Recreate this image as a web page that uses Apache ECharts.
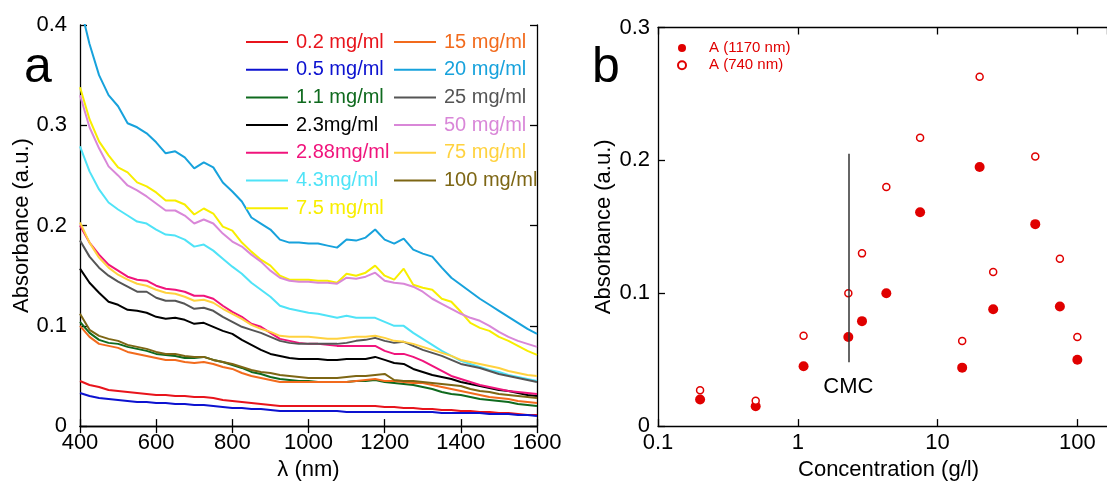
<!DOCTYPE html>
<html><head><meta charset="utf-8">
<script src="https://cdn.jsdelivr.net/npm/echarts@6/dist/echarts.min.js"></script>
<style>html,body{margin:0;padding:0;background:#fff}#c{width:1107px;height:486px}</style>
</head><body><div id="c"></div><script>
// ---------- Panel a: spectra ----------
const wavelengths = [400,425,450,475, 500,525,550,575, 600,625,650,675, 700,725,750,775,
  800,825,850,875, 900,925,950,975, 1000,1025,1050,1075, 1100,1125,1150,1175,
  1200,1225,1250,1275, 1300,1325,1350,1375, 1400,1425,1450,1475, 1500,1525,1550,1575, 1600];

const s0_2 = [0.045,0.041,0.039,0.036, 0.035,0.034,0.033,0.032, 0.031,0.031,0.030,0.030, 0.029,0.029,0.028,0.026,
  0.025,0.024,0.023,0.022, 0.021,0.020,0.020,0.020, 0.020,0.020,0.020,0.020, 0.020,0.020,0.020,0.020,
  0.019,0.019,0.018,0.018, 0.017,0.017,0.016,0.016, 0.015,0.015,0.014,0.014, 0.013,0.013,0.012,0.011, 0.011];
const s0_5 = [0.033,0.030,0.028,0.027, 0.026,0.025,0.024,0.024, 0.023,0.023,0.022,0.022, 0.021,0.021,0.020,0.019,
  0.018,0.018,0.017,0.017, 0.016,0.015,0.015,0.015, 0.015,0.015,0.015,0.015, 0.014,0.014,0.014,0.014,
  0.014,0.014,0.014,0.014, 0.014,0.014,0.013,0.013, 0.013,0.013,0.013,0.012, 0.012,0.012,0.011,0.011, 0.010];
const s1_1 = [0.104,0.093,0.086,0.083, 0.082,0.079,0.077,0.075, 0.072,0.071,0.070,0.068, 0.068,0.069,0.066,0.064,
  0.061,0.058,0.054,0.052, 0.049,0.047,0.046,0.045, 0.045,0.044,0.044,0.044, 0.044,0.045,0.045,0.046,
  0.044,0.043,0.042,0.041, 0.039,0.037,0.034,0.032, 0.031,0.029,0.027,0.026, 0.025,0.024,0.022,0.021, 0.020];
const s2_3 = [0.157,0.143,0.133,0.124, 0.121,0.116,0.115,0.113, 0.109,0.107,0.108,0.106, 0.102,0.103,0.099,0.095,
  0.092,0.086,0.081,0.076, 0.072,0.070,0.068,0.067, 0.067,0.067,0.066,0.066, 0.067,0.067,0.067,0.069,
  0.066,0.063,0.062,0.057, 0.054,0.051,0.049,0.047, 0.044,0.042,0.040,0.038, 0.036,0.035,0.033,0.031, 0.030];
const s2_88 = [0.200,0.183,0.171,0.161, 0.155,0.149,0.146,0.145, 0.140,0.137,0.136,0.134, 0.130,0.130,0.127,0.120,
  0.114,0.109,0.102,0.099, 0.093,0.087,0.085,0.083, 0.082,0.082,0.081,0.080, 0.080,0.080,0.080,0.080,
  0.075,0.072,0.072,0.069, 0.065,0.060,0.055,0.050, 0.047,0.044,0.041,0.039, 0.037,0.035,0.034,0.033, 0.032];
const s4_3 = [0.279,0.254,0.236,0.223, 0.216,0.210,0.204,0.202, 0.196,0.191,0.190,0.186, 0.179,0.181,0.175,0.167,
  0.159,0.152,0.143,0.136, 0.129,0.120,0.117,0.115, 0.113,0.112,0.110,0.108, 0.110,0.108,0.108,0.108,
  0.104,0.100,0.100,0.093, 0.087,0.081,0.075,0.070, 0.065,0.062,0.059,0.056, 0.054,0.051,0.049,0.047, 0.045];
const s7_5 = [0.338,0.306,0.284,0.270, 0.258,0.253,0.243,0.239, 0.233,0.225,0.225,0.221, 0.211,0.217,0.212,0.199,
  0.195,0.183,0.174,0.166, 0.160,0.150,0.146,0.146, 0.146,0.145,0.145,0.143, 0.152,0.150,0.153,0.160,
  0.150,0.146,0.157,0.141, 0.138,0.136,0.127,0.124, 0.114,0.103,0.098,0.095, 0.089,0.085,0.080,0.075, 0.071];
const s15 = [0.100,0.089,0.082,0.080, 0.078,0.074,0.072,0.070, 0.068,0.066,0.066,0.064, 0.063,0.064,0.062,0.059,
  0.057,0.053,0.050,0.048, 0.046,0.044,0.044,0.044, 0.044,0.044,0.044,0.044, 0.044,0.045,0.046,0.047,
  0.045,0.045,0.044,0.043, 0.043,0.041,0.039,0.037, 0.035,0.033,0.031,0.029, 0.028,0.027,0.025,0.024, 0.023];
const s20 = [0.420,0.381,0.350,0.330, 0.319,0.302,0.298,0.292, 0.283,0.272,0.274,0.268, 0.257,0.263,0.258,0.243,
  0.234,0.224,0.208,0.202, 0.196,0.186,0.183,0.183, 0.182,0.182,0.180,0.178, 0.186,0.185,0.188,0.196,
  0.186,0.182,0.187,0.176, 0.172,0.169,0.158,0.148, 0.141,0.134,0.127,0.121, 0.115,0.109,0.103,0.097, 0.092];
const s25 = [0.185,0.169,0.158,0.150, 0.144,0.139,0.134,0.134, 0.128,0.125,0.125,0.122, 0.117,0.118,0.115,0.109,
  0.104,0.099,0.096,0.093, 0.089,0.085,0.083,0.082, 0.082,0.082,0.082,0.082, 0.083,0.085,0.086,0.088,
  0.085,0.083,0.084,0.080, 0.076,0.073,0.070,0.066, 0.062,0.060,0.058,0.055, 0.052,0.050,0.048,0.046, 0.044];
const s50 = [0.330,0.298,0.277,0.259, 0.250,0.240,0.235,0.229, 0.222,0.215,0.215,0.210, 0.202,0.206,0.202,0.192,
  0.184,0.179,0.171,0.164, 0.155,0.148,0.145,0.144, 0.144,0.143,0.143,0.142, 0.148,0.147,0.149,0.153,
  0.145,0.143,0.142,0.139, 0.134,0.127,0.122,0.117, 0.112,0.108,0.105,0.100, 0.094,0.089,0.085,0.082, 0.079];
const s75 = [0.203,0.183,0.168,0.158, 0.151,0.146,0.142,0.140, 0.136,0.133,0.132,0.129, 0.125,0.126,0.123,0.117,
  0.112,0.107,0.101,0.097, 0.094,0.090,0.089,0.089, 0.089,0.088,0.087,0.087, 0.088,0.089,0.089,0.090,
  0.088,0.085,0.084,0.082, 0.079,0.076,0.073,0.070, 0.066,0.064,0.062,0.060, 0.058,0.055,0.053,0.051, 0.050];
const s100 = [0.112,0.096,0.090,0.087, 0.085,0.081,0.079,0.077, 0.074,0.072,0.072,0.070, 0.069,0.069,0.066,0.064,
  0.062,0.059,0.056,0.054, 0.053,0.051,0.050,0.049, 0.048,0.048,0.048,0.048, 0.049,0.050,0.050,0.051,
  0.052,0.046,0.045,0.045, 0.044,0.043,0.042,0.041, 0.040,0.037,0.035,0.034, 0.032,0.031,0.030,0.029, 0.028];

const spectraNames = ['0.2 mg/ml','0.5 mg/ml','1.1 mg/ml','2.3mg/ml','2.88mg/ml','4.3mg/ml','7.5 mg/ml',
  '15 mg/ml','20 mg/ml','25 mg/ml','50 mg/ml','75 mg/ml','100 mg/ml'];
const spectra = [s0_2, s0_5, s1_1, s2_3, s2_88, s4_3, s7_5, s15, s20, s25, s50, s75, s100];
const spectraColors = ['#e8141c','#0c12d0','#0f6a1e','#000000','#f0147c','#4fe3f7','#f8ee00',
  '#f26b1d','#17a2dc','#555555','#d987d8','#ffd23f','#7d6614'];

// ---------- Panel b: absorbance vs concentration ----------
const concentrations = [0.2, 0.5, 1.1, 2.3, 2.88, 4.3, 7.5, 15, 20, 25, 50, 75, 100];
const abs1170 = [0.020, 0.015, 0.045, 0.067, 0.079, 0.100, 0.161, 0.044, 0.195, 0.088, 0.152, 0.090, 0.050];
const abs740  = [0.027, 0.019, 0.068, 0.100, 0.130, 0.180, 0.217, 0.064, 0.263, 0.116, 0.203, 0.126, 0.067];
const cmcConc = 2.3;
const cmcRange = [0.048, 0.205];

const FONT = 'Liberation Sans';
const RED = '#e00000';

const axisLineStyle = {lineStyle: {color: '#000', width: 1.3}};
const tickStyle = {inside: true, length: 7, lineStyle: {color: '#000', width: 1.3}};
const labelStyle = {color: '#000', fontSize: 22, fontFamily: FONT};
const nameStyle = {color: '#000', fontSize: 22, fontFamily: FONT};
const yFmt = v => (v === 0 ? '0' : v.toFixed(1));
const xFmt = v => String(v);
const logFmt = v => {
  const l = Math.log10(v), r = Math.round(l);
  if (Math.abs(l - r) > 1e-6) return '';
  return r < 0 ? '0.1' : String(Math.pow(10, r));
};

const lineSeries = spectra.map((vals, i) => ({
  type: 'line', name: spectraNames[i], xAxisIndex: 0, yAxisIndex: 0,
  data: wavelengths.map((w, j) => [w, vals[j]]),
  symbol: 'none', showSymbol: false, clip: true,
  lineStyle: {color: spectraColors[i], width: 2},
  itemStyle: {color: spectraColors[i]}
}));

const legendItems = (from, to) => spectraNames.slice(from, to).map((n, k) => ({
  name: n, icon: 'rect', itemStyle: {color: spectraColors[from + k]}, textStyle: {color: spectraColors[from + k]}
}));

const option = {
  animation: false,
  backgroundColor: '#fff',
  grid: [
    {left: 80, top: 25, width: 457, height: 409},
    {left: 658, top: 27.5, width: 449, height: 410}
  ],
  xAxis: [
    {gridIndex: 0, type: 'value', min: 400, max: 1600, interval: 200, position: 'bottom',
     axisLine: axisLineStyle, axisTick: tickStyle, splitLine: {show: false},
     axisLabel: Object.assign({margin: 6, formatter: xFmt}, labelStyle),
     name: 'λ (nm)', nameLocation: 'middle', nameGap: 28, nameTextStyle: nameStyle},
    {gridIndex: 0, type: 'value', min: 400, max: 1600, interval: 200, position: 'top',
     axisLine: axisLineStyle, axisTick: tickStyle, splitLine: {show: false}, axisLabel: {show: false}},
    {gridIndex: 1, type: 'log', logBase: 10, min: 0.1, max: 163, position: 'bottom',
     axisLine: axisLineStyle, axisTick: tickStyle, splitLine: {show: false}, minorTick: {show: false},
     axisLabel: Object.assign({margin: 6, formatter: logFmt, showMaxLabel: false}, labelStyle),
     name: 'Concentration (g/l)', nameLocation: 'middle', nameGap: 26,
     nameTextStyle: Object.assign({padding: [0, 0, 0, 12]}, nameStyle)},
    {gridIndex: 1, type: 'log', logBase: 10, min: 0.1, max: 163, position: 'top',
     axisLine: axisLineStyle, axisTick: tickStyle, splitLine: {show: false}, axisLabel: {show: false}}
  ],
  yAxis: [
    {gridIndex: 0, type: 'value', min: 0, max: 0.4, interval: 0.1, position: 'left',
     axisLine: axisLineStyle, axisTick: tickStyle, splitLine: {show: false},
     axisLabel: Object.assign({margin: 13, formatter: yFmt}, labelStyle),
     name: 'Absorbance (a.u.)', nameLocation: 'middle', nameGap: 39, nameTextStyle: nameStyle},
    {gridIndex: 0, type: 'value', min: 0, max: 0.4, interval: 0.1, position: 'right',
     axisLine: axisLineStyle, axisTick: tickStyle, splitLine: {show: false}, axisLabel: {show: false}},
    {gridIndex: 1, type: 'value', min: 0, max: 0.3, interval: 0.1, position: 'left',
     axisLine: axisLineStyle, axisTick: tickStyle, splitLine: {show: false},
     axisLabel: Object.assign({margin: 8, formatter: yFmt}, labelStyle),
     name: 'Absorbance (a.u.)', nameLocation: 'middle', nameGap: 43, nameTextStyle: nameStyle}
  ],
  legend: [
    {data: legendItems(0, 7), orient: 'vertical', left: 241, top: 27, itemWidth: 42, itemHeight: 2,
     itemGap: 7.7, selectedMode: false, textStyle: {fontSize: 20, fontFamily: FONT, lineHeight: 20, padding: [0, 0, 0, 3]}},
    {data: legendItems(7, 13), orient: 'vertical', left: 389, top: 27, itemWidth: 42, itemHeight: 2,
     itemGap: 7.7, selectedMode: false, textStyle: {fontSize: 20, fontFamily: FONT, lineHeight: 20, padding: [0, 0, 0, 3]}},
    {data: ['A (1170 nm)', 'A (740 nm)'], orient: 'vertical', left: 672, top: 35, itemWidth: 8, itemHeight: 8,
     itemGap: 1.3, selectedMode: false,
     textStyle: {fontSize: 15, fontFamily: FONT, color: RED, lineHeight: 16, padding: [0, 0, 0, 18]}}
  ],
  graphic: [
    {type: 'text', x: 38, y: 68, style: {text: 'a', fontSize: 50, fontFamily: FONT, fill: '#000', align: 'center', verticalAlign: 'middle'}},
    {type: 'text', x: 606, y: 68, style: {text: 'b', fontSize: 50, fontFamily: FONT, fill: '#000', align: 'center', verticalAlign: 'middle'}}
  ],
  series: lineSeries.concat([
    {type: 'scatter', name: 'A (1170 nm)', xAxisIndex: 2, yAxisIndex: 2,
     data: concentrations.map((c, i) => [c, abs1170[i]]), symbol: 'circle', symbolSize: 10,
     itemStyle: {color: RED, opacity: 1},
     markLine: {silent: true, symbol: ['none', 'none'], animation: false,
       lineStyle: {color: '#333', width: 1.5, type: 'solid'},
       label: {show: true, position: 'start', formatter: 'CMC', fontSize: 22, fontFamily: FONT, color: '#000', distance: 14},
       data: [[{coord: [cmcConc, cmcRange[0]]}, {coord: [cmcConc, cmcRange[1]]}]]}},
    {type: 'scatter', name: 'A (740 nm)', xAxisIndex: 2, yAxisIndex: 2,
     data: concentrations.map((c, i) => [c, abs740[i]]), symbol: 'circle', symbolSize: 7,
     itemStyle: {color: '#fff', borderColor: RED, borderWidth: 1.5, opacity: 1}}
  ])
};
const chart = echarts.init(document.getElementById('c'), null, {renderer: 'canvas'});
chart.setOption(option);
</script></body></html>
